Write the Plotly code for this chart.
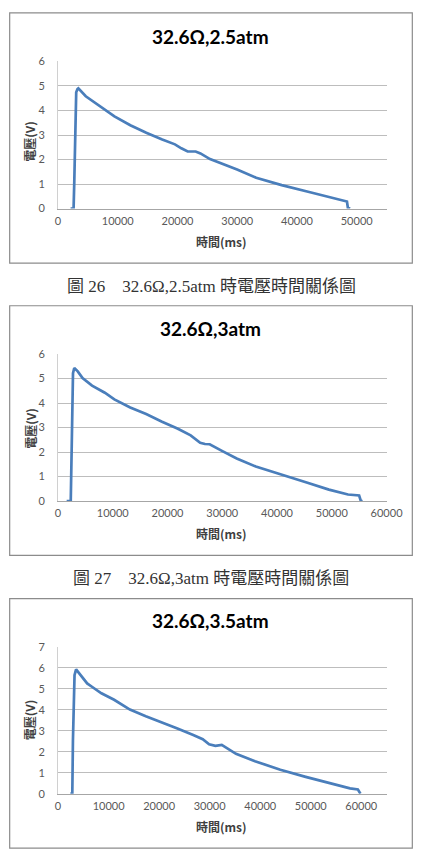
import plotly.graph_objects as go

# ---------------- data ----------------
titles = ["32.6Ω,2.5atm", "32.6Ω,3atm", "32.6Ω,3.5atm"]
captions = ["圖 26　32.6Ω,2.5atm 時電壓時間關係圖", "圖 27　32.6Ω,3atm 時電壓時間關係圖"]
x_title = "時間(ms)"
y_title = "電壓(V)"

t1 = [2100, 2600, 2720, 2880, 3040, 3250, 3400, 4640, 6770, 9440, 12100, 14770, 17440,
      19570, 20640, 21700, 23040, 23840, 25440, 27570, 29970, 33170, 37440, 41700,
      45440, 48370, 48530, 48900]
v1 = [0, 0, 1.12, 3.53, 4.74, 4.87, 4.90, 4.58, 4.20, 3.76, 3.40, 3.09, 2.82,
      2.62, 2.46, 2.33, 2.33, 2.25, 2.02, 1.82, 1.59, 1.26, 0.96, 0.70,
      0.46, 0.29, 0.03, 0]

t2 = [1570, 2320, 2500, 2610, 2730, 2960, 3600, 4470, 6210, 8540, 10280, 13180, 16090,
      18990, 21890, 24220, 25960, 26830, 27700, 30020, 32630, 36110, 40760, 45410,
      49470, 52960, 54990, 55280, 55570]
v2 = [0, 0, 2.28, 4.28, 5.22, 5.43, 5.29, 5.02, 4.71, 4.42, 4.15, 3.82, 3.55,
      3.24, 2.95, 2.68, 2.38, 2.33, 2.32, 2.04, 1.74, 1.41, 1.07, 0.76,
      0.47, 0.27, 0.23, 0.03, 0]

t3 = [2440, 2820, 2945, 3070, 3260, 3570, 4510, 5450, 5760, 6700, 8580, 11090, 14220,
      17360, 20490, 23620, 26750, 28630, 29890, 31140, 32390, 35210, 38970, 43980,
      48990, 54010, 57770, 59330, 59650, 59830]
v3 = [0, 0, 2.52, 4.87, 5.65, 5.93, 5.65, 5.37, 5.26, 5.10, 4.79, 4.48, 4.01,
      3.69, 3.41, 3.11, 2.80, 2.60, 2.36, 2.28, 2.33, 1.90, 1.55, 1.14,
      0.80, 0.49, 0.25, 0.20, 0.05, 0]

x_max = [55000, 60000, 65000]
y_max = [6, 6, 7]

# ---------------- layout helpers ----------------
W, H = 436, 863
def fx(p): return p / W
def fy(p): return 1 - p / H

# pixel geometry of each panel
plot_x = (57.7, 402)
plot_y = [(55.3, 204.7), (352.3, 501.7), (649.7, 798.7)]
boxes = [(7, 6, 429, 260), (7, 303.3, 429, 556.7), (7, 600.7, 429, 854)]
title_y = [30, 326, 623]
xtitle_y = [238, 535, 831.7]
ytitle_y = [136, 427.5, 723.5]
caption_y = [283, 580]

LINE = "#4A7EBB"
GRID = "#BDBDBD"
TICK = dict(family="Lato, Liberation Sans, sans-serif", size=11, color="#595959")
CJK = "Noto Sans CJK TC"

fig = go.Figure()
series = [(t1, v1), (t2, v2), (t3, v3)]
annotations = []
shapes = []
layout = {}
for i, (t, v) in enumerate(series):
    n = "" if i == 0 else str(i + 1)
    fig.add_trace(go.Scatter(x=t, y=v, mode="lines", xaxis="x" + n, yaxis="y" + n,
                             line=dict(color=LINE, width=2.7), showlegend=False,
                             hoverinfo="skip"))
    y0, y1 = plot_y[i]
    layout["xaxis" + n] = dict(
        domain=[fx(plot_x[0]), fx(plot_x[1])], anchor="y" + n,
        range=[0, x_max[i]], dtick=10000, tick0=0, tickformat="d",
        showgrid=False, zeroline=False,
        showline=True, linecolor="#A6A6A6", linewidth=1, ticks="",
        tickfont=TICK, ticklabelstandoff=2, fixedrange=True)
    layout["yaxis" + n] = dict(
        domain=[fy(y1), fy(y0)], anchor="x" + n,
        range=[0, y_max[i]], dtick=1, tick0=0, showgrid=True, gridcolor=GRID,
        gridwidth=1, zeroline=False, showline=True, linecolor="#D0D0D0",
        linewidth=1, ticks="", tickfont=TICK, ticklabelstandoff=10, fixedrange=True)
    bx0, by0, bx1, by1 = boxes[i]
    shapes.append(dict(type="rect", xref="paper", yref="paper",
                       x0=fx(bx0), x1=fx(bx1), y0=fy(by1), y1=fy(by0),
                       line=dict(color="#8C8C8C", width=1.2), fillcolor="rgba(0,0,0,0)"))
    annotations.append(dict(text="<b>" + titles[i] + "</b>", xref="paper", yref="paper",
                            x=fx(217), y=fy(title_y[i]), showarrow=False,
                            xanchor="center", yanchor="middle",
                            font=dict(family="Lato, Liberation Sans, sans-serif",
                                      size=19, color="#000000")))
    annotations.append(dict(text="<b>" + x_title + "</b>", xref="paper", yref="paper",
                            x=fx(229), y=fy(xtitle_y[i]), showarrow=False,
                            xanchor="center", yanchor="middle",
                            font=dict(family=CJK, size=12, color="#404040")))
    annotations.append(dict(text="<b>" + y_title + "</b>", xref="paper", yref="paper",
                            x=fx(28), y=fy(ytitle_y[i]), showarrow=False, textangle=-90,
                            xanchor="center", yanchor="middle",
                            font=dict(family=CJK, size=12, color="#404040")))

for j, c in enumerate(captions):
    annotations.append(dict(text=c, xref="paper", yref="paper",
                            x=fx(218), y=fy(caption_y[j]), showarrow=False,
                            xanchor="center", yanchor="middle",
                            font=dict(family="Liberation Serif, " + CJK, size=17,
                                      color="#333333")))

fig.update_layout(width=W, height=H, margin=dict(l=0, r=0, t=0, b=0),
                  paper_bgcolor="white", plot_bgcolor="white",
                  shapes=shapes, annotations=annotations, **layout)

fig.write_html("out.html", config={"displayModeBar": False})
